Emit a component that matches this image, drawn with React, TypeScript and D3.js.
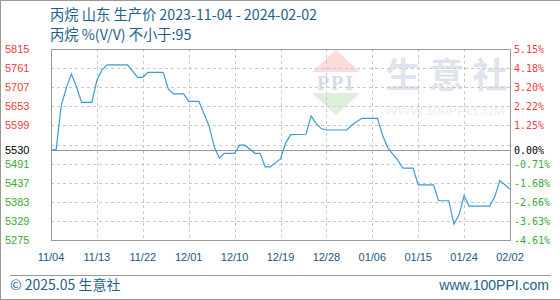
import React from "react";
import * as d3 from "d3";

const dates: string[] = [
  "2023-11-04","2023-11-05","2023-11-06","2023-11-07","2023-11-08","2023-11-09","2023-11-10","2023-11-12",
  "2023-11-13","2023-11-14","2023-11-15","2023-11-19","2023-11-21","2023-11-22","2023-11-23","2023-11-26",
  "2023-11-27","2023-11-28","2023-11-30","2023-12-01","2023-12-03","2023-12-04","2023-12-05","2023-12-06",
  "2023-12-07","2023-12-08","2023-12-10","2023-12-11","2023-12-12","2023-12-14","2023-12-15","2023-12-16",
  "2023-12-17","2023-12-18","2023-12-19","2023-12-20","2023-12-21","2023-12-24","2023-12-25","2023-12-26",
  "2023-12-27","2023-12-28","2024-01-01","2024-01-02","2024-01-03","2024-01-04","2024-01-07","2024-01-08",
  "2024-01-09","2024-01-10","2024-01-11","2024-01-12","2024-01-14","2024-01-15","2024-01-18","2024-01-19",
  "2024-01-21","2024-01-22","2024-01-23","2024-01-24","2024-01-25","2024-01-29","2024-01-30","2024-01-31",
  "2024-02-01","2024-02-02",
];
const prices: number[] = [
  5530,5530,5654,5705,5744,5708,5664,5664,
  5727,5756,5770,5770,5735,5735,5749,5749,
  5702,5688,5688,5667,5667,5632,5597,5539,
  5507,5520,5520,5543,5543,5520,5520,5482,
  5482,5493,5504,5549,5573,5574,5626,5604,
  5590,5586,5586,5600,5610,5619,5619,5572,
  5537,5518,5501,5478,5478,5431,5431,5386,
  5386,5320,5346,5400,5371,5371,5397,5443,
  5431,5418,
];
const baseValue = 5530;
const yTicks: number[] = [5815,5761,5707,5653,5599,5545,5491,5437,5383,5329,5275];
const xTickLabels: string[] = ["11/04","11/13","11/22","12/01","12/10","12/19","12/28","01/06","01/15","01/24","02/02"];
const xTickDates: string[] = [
  "2023-11-04","2023-11-13","2023-11-22","2023-12-01","2023-12-10","2023-12-19",
  "2023-12-28","2024-01-06","2024-01-15","2024-01-24","2024-02-02",
];
const title = "丙烷 山东 生产价 2023-11-04 - 2024-02-02";
const subtitle = "丙烷 %(V/V)  不小于:95";
const footerLeft = "© 2025.05 生意社";
const footerRight = "www.100PPI.com";
const watermarkChars: string[] = ["生", "意", "社"];

const parse = d3.timeParse("%Y-%m-%d");

export default function App() {
  const W = 560, H = 300;
  const left = 51, right = 510, top = 49, bottom = 240;
  const x = d3.scaleTime()
    .domain([parse(dates[0])!, parse(dates[dates.length - 1])!])
    .range([left, right]);
  const y = d3.scaleLinear().domain([5275, 5815]).range([bottom, top]);
  const pts: [Date, number][] = dates.map((d, i) => [parse(d)!, prices[i]]);
  const line = d3.line<[Date, number]>().x(d => x(d[0])).y(d => y(d[1]));
  const cjk = "'Microsoft YaHei','Noto Sans CJK SC',sans-serif";
  const titleColor = "#1d5f8d";
  const pct = (v: number) => (((v - baseValue) / baseValue) * 100).toFixed(2) + "%";
  const colorFor = (v: number) => (v > baseValue ? "#f03c3c" : v < baseValue ? "#3aaa35" : "#000");

  return (
    <div style={{ position: "fixed", left: 0, top: 0 }}>
      <svg width={W} height={H} style={{ display: "block", background: "#fff" }}>
        {/* outer frame */}
        <line x1={0.5} y1={0.5} x2={W} y2={0.5} stroke="#999" />
        <line x1={0.5} y1={0} x2={0.5} y2={H} stroke="#999" />
        <line x1={0} y1={H - 0.5} x2={W} y2={H - 0.5} stroke="#999" />

        {/* titles */}
        <text x={50} y={20} fontFamily={cjk} fontSize={14.25} fill={titleColor}>{title}</text>
        <text x={50} y={40} fontFamily={cjk} fontSize={14.25} fill={titleColor}>{subtitle}</text>

        {/* watermark */}
        <g>
          <polygon points={`${312},${72} ${336},${50} ${360},${72}`} fill="#fadcdc" />
          <text x={336} y={90} textAnchor="middle" fontFamily="'Liberation Serif',serif" fontWeight="bold" fontSize={20} fill="#d6dcea" letterSpacing={2}>PPI</text>
          <polygon points={`${312},${93} ${360},${93} ${336},${115}`} fill="#dcf0dc" />
          {watermarkChars.map((c, i) => (
            <text key={"wm" + i} x={403 + i * 43.5} y={88} textAnchor="middle" fontFamily={cjk} fontWeight="bold" fontSize={35} fill="#dfe3ee">{c}</text>
          ))}
          <text x={385} y={115} fontFamily="'Liberation Sans',sans-serif" fontSize={13.4} fill="#eeeeee">WWW.100PPI.COM</text>
        </g>

        {/* horizontal grid */}
        {yTicks.map((t, i) => (
          <line key={"hg" + i} x1={left} x2={right} y1={Math.round(y(t)) + 0.5} y2={Math.round(y(t)) + 0.5}
            stroke="#c8c8c8" strokeDasharray="3,3" />
        ))}
        {/* vertical grid */}
        {xTickDates.map((d, i) => (
          <line key={"vg" + i} x1={Math.round(x(parse(d)!)) + 0.5} x2={Math.round(x(parse(d)!)) + 0.5}
            y1={top} y2={bottom} stroke="#c8c8c8" strokeDasharray="3,3" />
        ))}
        {/* baseline */}
        <line x1={left} x2={right} y1={Math.round(y(baseValue)) + 0.5} y2={Math.round(y(baseValue)) + 0.5} stroke="#999" />
        {/* frame */}
        <rect x={left + 0.5} y={top + 0.5} width={right - left} height={bottom - top} fill="none" stroke="#999" />

        {/* series */}
        <path d={line(pts) || ""} fill="none" stroke="#3b9ad8" strokeWidth={1.2} />

        {/* left axis labels */}
        {yTicks.filter(t => t !== 5545).map((t, i) => (
          <text key={"yl" + i} x={5} y={y(t) + 4} fontFamily="'Liberation Sans',sans-serif" fontSize={11} fill={colorFor(t)}>{t}</text>
        ))}
        <text x={5} y={y(baseValue) + 4} fontFamily="'Liberation Sans',sans-serif" fontSize={11} fill="#000">{baseValue}</text>

        {/* right axis labels */}
        {yTicks.filter(t => t !== 5545).map((t, i) => (
          <text key={"yr" + i} x={514} y={y(t) + 4} fontFamily="'DejaVu Sans Mono',monospace" fontSize={10} fill={colorFor(t)}>{pct(t)}</text>
        ))}
        <text x={514} y={y(baseValue) + 4} fontFamily="'DejaVu Sans Mono',monospace" fontSize={10} fill="#000">{pct(baseValue)}</text>

        {/* x axis labels */}
        {xTickDates.map((d, i) => (
          <text key={"xl" + i} x={x(parse(d)!)} y={261} textAnchor="middle" fontFamily="'Liberation Sans',sans-serif" fontSize={11} fill="#1a5785">{xTickLabels[i]}</text>
        ))}

        {/* footer */}
        <line x1={10} x2={551} y1={275.5} y2={275.5} stroke="#999" />
        <text x={10} y={290} fontFamily={cjk} fontSize={14} fill="#1d5f8d">{footerLeft}</text>
        <text x={549} y={290} textAnchor="end" fontFamily="'Liberation Sans',sans-serif" fontSize={14} fill="#1d5f8d">{footerRight}</text>
      </svg>
    </div>
  );
}
